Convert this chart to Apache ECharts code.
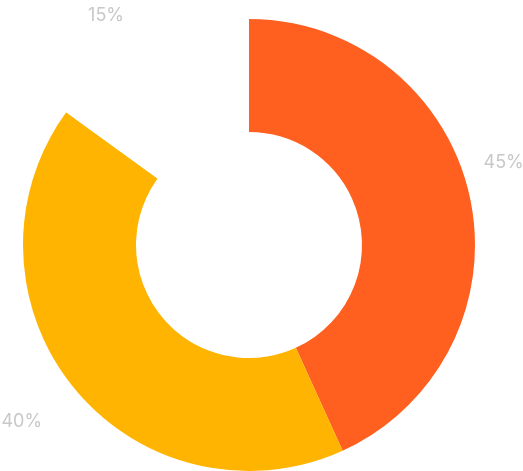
<!DOCTYPE html>
<html>
<head>
<meta charset="utf-8">
<style>html,body{margin:0;padding:0;background:#fff}#c{width:523px;height:471px}</style>
<script src="https://cdn.jsdelivr.net/npm/echarts@6/dist/echarts.min.js"></script>
</head>
<body>
<div id="c"></div>
<script>
const categories = ['A', 'B', 'C'];
const values = [43.2, 41.8, 15];
const labels = ['45%', '40%', '15%'];
const colors = ['#FF5F1F', '#FEB400', '#FFFFFF'];
const labelShift = [[-8, -32], [-13, 25], [-8, -16]];

const chart = echarts.init(document.getElementById('c'), null, {renderer: 'canvas'});
chart.setOption({
  animation: false,
  series: [{
    type: 'pie',
    center: [249, 245],
    radius: [113, 226],
    startAngle: 90,
    clockwise: true,
    avoidLabelOverlap: false,
    data: categories.map((c, i) => ({
      name: c, value: values[i],
      itemStyle: {color: colors[i]},
      label: {formatter: labels[i]}
    })),
    label: {
      show: true,
      position: 'outside',
      color: '#c8c8c8',
      fontSize: 18,
      fontFamily: 'Inter',
      distanceToLabelLine: 0
    },
    labelLine: {show: false, length: 14, length2: 8},
    labelLayout: function (p) {
      const s = labelShift[p.dataIndex];
      return {dx: s[0], dy: s[1]};
    },
    emphasis: {disabled: true}
  }]
});
</script>
</body>
</html>
